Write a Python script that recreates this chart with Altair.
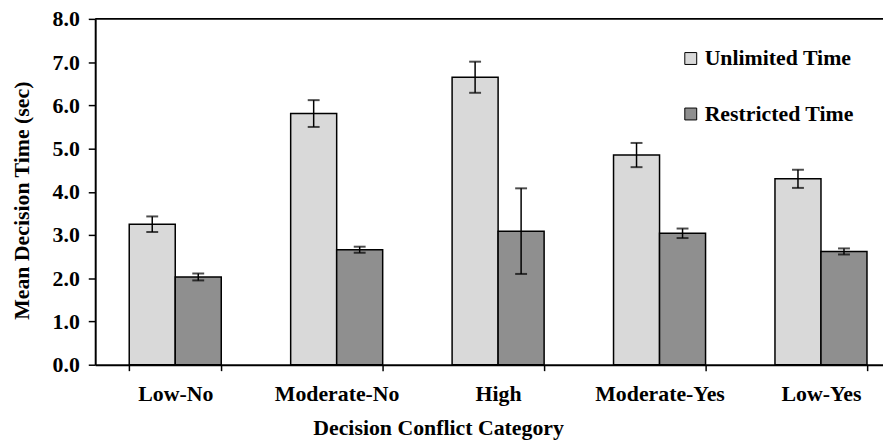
import altair as alt
import pandas as pd

categories = ["Low-No", "Moderate-No", "High", "Moderate-Yes", "Low-Yes"]
series = ["Unlimited Time", "Restricted Time"]
unlimited = [3.25, 5.81, 6.65, 4.85, 4.30]
unlimited_err = [0.18, 0.31, 0.36, 0.28, 0.21]
restricted = [2.03, 2.66, 3.09, 3.04, 2.62]
restricted_err = [0.08, 0.07, 0.99, 0.11, 0.07]
y_ticks = [0, 1, 2, 3, 4, 5, 6, 7, 8]
colors = ["#d9d9d9", "#8f8f8f"]

rows = []
for i, c in enumerate(categories):
    for s, vals, errs in ((series[0], unlimited, unlimited_err), (series[1], restricted, restricted_err)):
        rows.append({"cat": c, "series": s, "mean": vals[i],
                     "lo": vals[i] - errs[i], "hi": vals[i] + errs[i]})
df = pd.DataFrame(rows)
top_df = pd.DataFrame({"v": [max(y_ticks)]})

FONT = "Liberation Serif"
FS = 22

x_scale = alt.Scale(paddingInner=0.43, paddingOuter=0.155, align=0.68)
x_enc = alt.X("cat:N", sort=categories, scale=x_scale,
              axis=alt.Axis(title="Decision Conflict Category", labelAngle=0,
                            tickBand="extent", tickSize=6, labelPadding=13,
                            titleX=346, titleY=70, titleBaseline="alphabetic",
                            titleAnchor="start", titleAlign="center"))
xoff = alt.XOffset("series:N", sort=series, scale=alt.Scale(paddingInner=0, paddingOuter=0))
y_scale = alt.Scale(domain=[0, 8], nice=False)

bars = alt.Chart(df).mark_bar(stroke="black", strokeWidth=1.5).encode(
    x=x_enc,
    xOffset=xoff,
    y=alt.Y("mean:Q", scale=y_scale,
            axis=alt.Axis(title="Mean Decision Time (sec)", values=y_ticks, format=".1f",
                          tickSize=7, labelPadding=9, grid=False,
                          titleX=-74, titleY=183, titleBaseline="middle",
                          titleAnchor="start", titleAlign="center")),
    color=alt.Color("series:N", sort=series,
                    scale=alt.Scale(domain=series, range=colors),
                    legend=alt.Legend(title=None, orient="none", legendX=590, legendY=29,
                                      symbolType="square", symbolSize=144,
                                      symbolStrokeColor="black", symbolStrokeWidth=1,
                                      labelFont=FONT, labelFontWeight="bold",
                                      labelFontSize=FS, labelColor="black",
                                      labelOffset=3, rowPadding=34, padding=0)),
)

err = alt.Chart(df).mark_rule(color="black", strokeWidth=1.5).encode(
    x=alt.X("cat:N", sort=categories, scale=x_scale), xOffset=xoff,
    y=alt.Y("lo:Q", scale=y_scale), y2="hi:Q")
cap_hi = alt.Chart(df).mark_tick(color="black", thickness=2, size=12).encode(
    x=alt.X("cat:N", sort=categories, scale=x_scale), xOffset=xoff,
    y=alt.Y("hi:Q", scale=y_scale))
cap_lo = alt.Chart(df).mark_tick(color="black", thickness=2, size=12).encode(
    x=alt.X("cat:N", sort=categories, scale=x_scale), xOffset=xoff,
    y=alt.Y("lo:Q", scale=y_scale))
top_line = alt.Chart(top_df).mark_rule(color="black", strokeWidth=2).encode(
    y=alt.Y("v:Q", scale=y_scale))

chart = alt.layer(bars, err, cap_hi, cap_lo, top_line).properties(
    width=795, height=349,
    autosize=alt.AutoSizeParams(type="none"),
    padding={"left": 88, "top": 9, "right": 0, "bottom": 74},
).configure_view(stroke=None).configure_axis(
    domainColor="black", domainWidth=2, tickColor="black", tickWidth=1.5,
    labelFont=FONT, labelFontWeight="bold", labelFontSize=FS, labelColor="black",
    titleFont=FONT, titleFontWeight="bold", titleFontSize=FS, titleColor="black",
)

chart.save("out.html", embed_options={"renderer": "svg", "actions": False})
